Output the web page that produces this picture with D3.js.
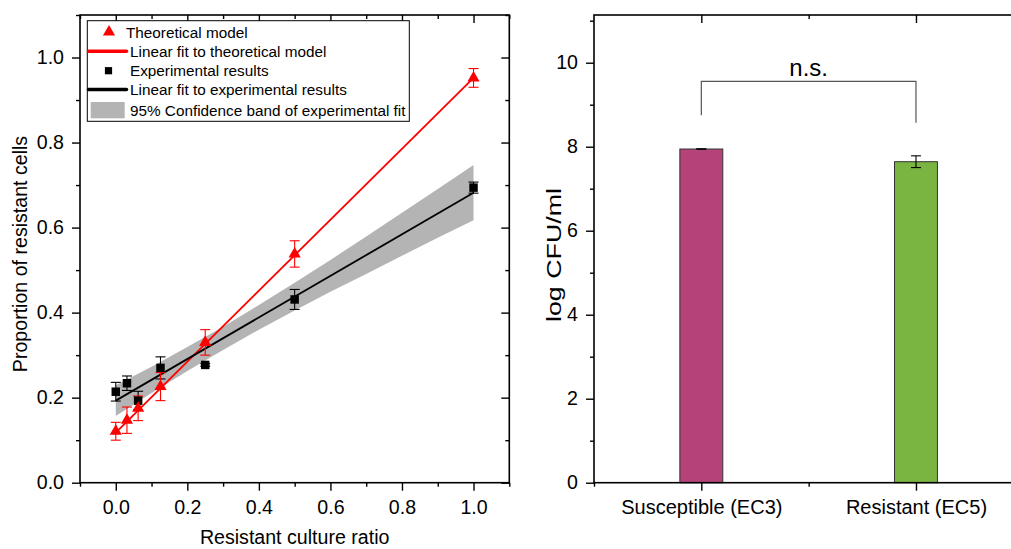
<!DOCTYPE html>
<html><head><meta charset="utf-8">
<script src="https://cdn.jsdelivr.net/npm/d3@7"></script>
<style>
html,body{margin:0;padding:0;background:#fff;}
svg{display:block;font-family:"Liberation Sans",Arial,sans-serif;}
</style></head>
<body>
<svg id="chart" width="1011" height="549"></svg>
<script>
// ---------- Left panel data ----------
const ratios = [0, 0.03125, 0.0625, 0.125, 0.25, 0.5, 1.0];
const theoretical = [0.121, 0.147, 0.175, 0.226, 0.330, 0.538, 0.952];
const theoreticalErr = [0.021, 0.031, 0.029, 0.033, 0.030, 0.031, 0.022];
const experimental = [0.214, 0.234, 0.193, 0.270, 0.277, 0.431, 0.694];
const experimentalErr = [0.022, 0.017, 0.022, 0.026, 0.003, 0.0235, 0.013];
const theoryFitX = [0, 1];
const theoryFitY = [0.118, 0.952];
const expFitX = [0, 1];
const expFitY = [0.193, 0.682];
const bandX = [0, 0.1, 0.2, 0.3, 0.4, 0.5, 0.6, 0.7, 0.8, 0.9, 1.0];
const bandLow = [0.157, 0.211, 0.263, 0.312, 0.360, 0.405, 0.449, 0.491, 0.534, 0.576, 0.617];
const bandHigh = [0.229, 0.273, 0.319, 0.367, 0.418, 0.470, 0.524, 0.579, 0.635, 0.691, 0.747];
const xTicksLeft = [0, 0.2, 0.4, 0.6, 0.8, 1.0];
const yTicksLeft = [0, 0.2, 0.4, 0.6, 0.8, 1.0];
const legendLabels = ["Theoretical model", "Linear fit to theoretical model", "Experimental results",
  "Linear fit to experimental results", "95% Confidence band of experimental fit"];

// ---------- Right panel data ----------
const strains = ["Susceptible (EC3)", "Resistant (EC5)"];
const logCFU = [7.945, 7.643];
const logCFUErr = [0.005, 0.14];
const barColors = ["#b5437a", "#7ab441"];
const yTicksRight = [0, 2, 4, 6, 8, 10];
const bracket = {top: 9.555, leftEnd: 8.75, rightEnd: 8.57, label: "n.s."};

const svg = d3.select("#chart");
const FONT = 19.6;

// ================= LEFT PANEL =================
const xL = d3.scaleLinear([-0.1, 1.1], [80, 509.3]);
const yL = d3.scaleLinear([0, 1.1], [482.7, 15]);
const L = svg.append("g");

// confidence band
const band = bandX.map((x, i) => ({x, lo: bandLow[i], hi: bandHigh[i]}));
L.append("path").datum(band)
  .attr("d", d3.area().x(d => xL(d.x)).y0(d => yL(d.lo)).y1(d => yL(d.hi)))
  .attr("fill", "#b4b4b4").attr("stroke", "none");

const line = d3.line().x(d => xL(d[0])).y(d => yL(d[1]));
L.append("path").datum(theoryFitX.map((x, i) => [x, theoryFitY[i]]))
  .attr("d", line).attr("stroke", "#ff0000").attr("stroke-width", 1.8).attr("fill", "none");
L.append("path").datum(expFitX.map((x, i) => [x, expFitY[i]]))
  .attr("d", line).attr("stroke", "#000").attr("stroke-width", 1.8).attr("fill", "none");

function errorBars(g, xs, ys, es, color, xs_, ys_, cap) {
  xs.forEach((x, i) => {
    const cx = xs_(x), y1 = ys_(ys[i] - es[i]), y2 = ys_(ys[i] + es[i]);
    const eg = g.append("g").attr("stroke", color).attr("stroke-width", 1.1);
    eg.append("line").attr("x1", cx).attr("x2", cx).attr("y1", y1).attr("y2", y2);
    eg.append("line").attr("x1", cx - cap).attr("x2", cx + cap).attr("y1", y1).attr("y2", y1);
    eg.append("line").attr("x1", cx - cap).attr("x2", cx + cap).attr("y1", y2).attr("y2", y2);
  });
}
errorBars(L, ratios, experimental, experimentalErr, "#000", xL, yL, 5);
errorBars(L, ratios, theoretical, theoreticalErr, "#ff0000", xL, yL, 5);

L.selectAll(".sq").data(ratios).join("path")
  .attr("transform", (d, i) => `translate(${xL(d)},${yL(experimental[i])})`)
  .attr("d", d3.symbol(d3.symbolSquare, 72)).attr("fill", "#000");
L.selectAll(".tri").data(ratios).join("path")
  .attr("transform", (d, i) => `translate(${xL(d)},${yL(theoretical[i])})`)
  .attr("d", d3.symbol(d3.symbolTriangle, 64)).attr("fill", "#ff0000");

// axes helpers
function styleAxis(g, labels, size) {
  g.select(".domain").remove();
  g.selectAll(".tick line").attr("stroke", "#000").attr("stroke-width", 1.4);
  g.selectAll(".tick text").attr("font-size", size || FONT).attr("fill", "#000")
    .attr("font-family", '"Liberation Sans",Arial,sans-serif');
  if (!labels) g.selectAll(".tick text").remove();
}
const minorL_x = [-0.1, 0.1, 0.3, 0.5, 0.7, 0.9, 1.1];
const minorL_y = [0.1, 0.3, 0.5, 0.7, 0.9, 1.1];
// bottom
L.append("g").attr("transform", `translate(0,${yL(0)})`)
  .call(d3.axisBottom(xL).tickValues(xTicksLeft).tickFormat(d3.format(".1f")).tickSize(8).tickPadding(9))
  .call(g => styleAxis(g, true));
L.append("g").attr("transform", `translate(0,${yL(0)})`)
  .call(d3.axisBottom(xL).tickValues(minorL_x).tickSize(4)).call(g => styleAxis(g, false));
// top (inward)
L.append("g").attr("transform", `translate(0,${yL(1.1)})`)
  .call(d3.axisTop(xL).tickValues(xTicksLeft).tickSize(-8)).call(g => styleAxis(g, false));
L.append("g").attr("transform", `translate(0,${yL(1.1)})`)
  .call(d3.axisTop(xL).tickValues(minorL_x).tickSize(-4)).call(g => styleAxis(g, false));
// left
L.append("g").attr("transform", `translate(${xL(-0.1)},0)`)
  .call(d3.axisLeft(yL).tickValues(yTicksLeft).tickFormat(d3.format(".1f")).tickSize(8).tickPadding(8))
  .call(g => styleAxis(g, true));
L.append("g").attr("transform", `translate(${xL(-0.1)},0)`)
  .call(d3.axisLeft(yL).tickValues(minorL_y).tickSize(4)).call(g => styleAxis(g, false));
// right (inward)
L.append("g").attr("transform", `translate(${xL(1.1)},0)`)
  .call(d3.axisRight(yL).tickValues(yTicksLeft).tickSize(-8)).call(g => styleAxis(g, false));
L.append("g").attr("transform", `translate(${xL(1.1)},0)`)
  .call(d3.axisRight(yL).tickValues(minorL_y).tickSize(-4)).call(g => styleAxis(g, false));
// frame
L.append("rect").attr("x", xL(-0.1)).attr("y", yL(1.1))
  .attr("width", xL(1.1) - xL(-0.1)).attr("height", yL(0) - yL(1.1))
  .attr("fill", "none").attr("stroke", "#000").attr("stroke-width", 1.6);

// axis titles
L.append("text").attr("x", (xL(-0.1) + xL(1.1)) / 2).attr("y", 543.5)
  .attr("text-anchor", "middle").attr("font-size", FONT).text("Resistant culture ratio");
L.append("text").attr("transform", `translate(27,254) rotate(-90)`)
  .attr("text-anchor", "middle").attr("font-size", FONT).text("Proportion of resistant cells");

// legend
const lg = L.append("g");
lg.append("rect").attr("x", 87.3).attr("y", 20.7).attr("width", 322).attr("height", 100.6)
  .attr("fill", "#fff").attr("stroke", "#000").attr("stroke-width", 1);
const rowY = [32, 51.3, 70.7, 89.5, 110];
lg.append("path").attr("transform", `translate(109,${rowY[0]})`)
  .attr("d", d3.symbol(d3.symbolTriangle, 64)).attr("fill", "#ff0000");
lg.append("line").attr("x1", 88.5).attr("x2", 126.5).attr("y1", rowY[1]).attr("y2", rowY[1])
  .attr("stroke", "#ff0000").attr("stroke-width", 3.5).attr("stroke-linecap", "round");
lg.append("path").attr("transform", `translate(108.5,${rowY[2]})`)
  .attr("d", d3.symbol(d3.symbolSquare, 52)).attr("fill", "#000");
lg.append("line").attr("x1", 88.5).attr("x2", 126.5).attr("y1", rowY[3]).attr("y2", rowY[3])
  .attr("stroke", "#000").attr("stroke-width", 3.5).attr("stroke-linecap", "round");
lg.append("rect").attr("x", 90.7).attr("y", 102).attr("width", 34).attr("height", 16.3).attr("fill", "#b4b4b4");
const textX = [126, 130, 130, 130, 130];
legendLabels.forEach((t, i) => {
  lg.append("text").attr("x", textX[i]).attr("y", rowY[i]).attr("dy", "0.36em")
    .attr("font-size", 15.3).text(t);
});

// ================= RIGHT PANEL =================
const xR = d3.scaleLinear([0.5, 2.5], [594, 1023.3]);
const yR = d3.scaleLinear([0, 11.136], [482.7, 15]);
const R = svg.append("g");
const barW = xR(0.6) - xR(0.4);

strains.forEach((s, i) => {
  const cx = xR(i + 1);
  R.append("rect").attr("x", cx - barW / 2).attr("y", yR(logCFU[i]))
    .attr("width", barW).attr("height", yR(0) - yR(logCFU[i]))
    .attr("fill", barColors[i]).attr("stroke", "#333").attr("stroke-width", 1);
});
errorBars(R, [1, 2], logCFU, logCFUErr, "#000", xR, yR, 5);

// bracket
R.append("path")
  .attr("d", `M${xR(1)},${yR(bracket.leftEnd)}V${yR(bracket.top)}H${xR(2)}V${yR(bracket.rightEnd)}`)
  .attr("fill", "none").attr("stroke", "#555").attr("stroke-width", 1.2);
R.append("text").attr("x", xR(1.5)).attr("y", yR(bracket.top) - 5.5)
  .attr("text-anchor", "middle").attr("font-size", 24).text(bracket.label);

const minorR_y = [1, 3, 5, 7, 9, 11];
R.append("g").attr("transform", `translate(0,${yR(0)})`)
  .call(d3.axisBottom(xR).tickValues([1, 2]).tickFormat((d) => strains[d - 1]).tickSize(8).tickPadding(9))
  .call(g => styleAxis(g, true, 20));
R.append("g").attr("transform", `translate(0,${yR(0)})`)
  .call(d3.axisBottom(xR).tickValues([0.5, 1.5, 2.5]).tickSize(4)).call(g => styleAxis(g, false));
R.append("g").attr("transform", `translate(0,${yR(11.136)})`)
  .call(d3.axisTop(xR).tickValues([1, 2]).tickSize(-8)).call(g => styleAxis(g, false));
R.append("g").attr("transform", `translate(0,${yR(11.136)})`)
  .call(d3.axisTop(xR).tickValues([1.5]).tickSize(-4)).call(g => styleAxis(g, false));
R.append("g").attr("transform", `translate(${xR(0.5)},0)`)
  .call(d3.axisLeft(yR).tickValues(yTicksRight).tickFormat(d3.format("d")).tickSize(8).tickPadding(8))
  .call(g => styleAxis(g, true));
R.append("g").attr("transform", `translate(${xR(0.5)},0)`)
  .call(d3.axisLeft(yR).tickValues(minorR_y).tickSize(4)).call(g => styleAxis(g, false));
R.append("rect").attr("x", xR(0.5)).attr("y", yR(11.136))
  .attr("width", xR(2.5) - xR(0.5)).attr("height", yR(0) - yR(11.136))
  .attr("fill", "none").attr("stroke", "#000").attr("stroke-width", 1.6);

R.append("text").attr("transform", `translate(561,255) rotate(-90)`)
  .attr("text-anchor", "middle").attr("font-size", 19.5)
  .attr("textLength", 134).attr("lengthAdjust", "spacingAndGlyphs").text("log CFU/ml");
</script>
</body></html>
